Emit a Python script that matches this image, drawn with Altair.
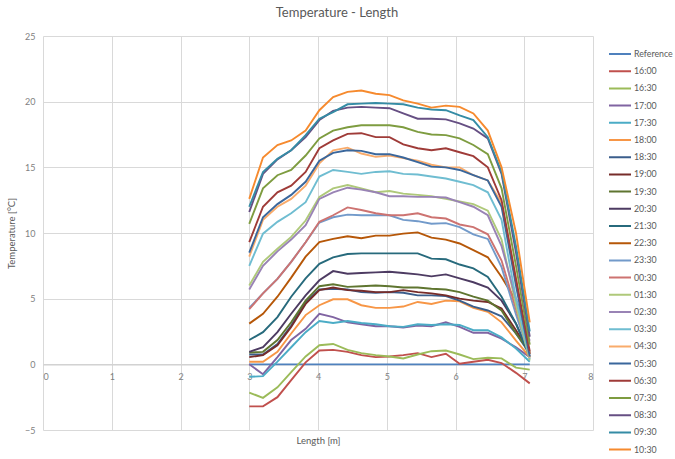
import altair as alt
import pandas as pd

# Measurement positions along the pipe [m]
length_m = [3.00, 3.20, 3.41, 3.61, 3.82, 4.02, 4.22, 4.43, 4.63, 4.84, 5.04,
            5.24, 5.45, 5.65, 5.86, 6.06, 6.26, 6.47, 6.67, 6.88, 7.08]

series_names = ["Reference", "16:00", "16:30", "17:00", "17:30", "18:00", "18:30",
                "19:00", "19:30", "20:30", "21:30", "22:30", "23:30", "00:30",
                "01:30", "02:30", "03:30", "04:30", "05:30", "06:30", "07:30",
                "08:30", "09:30", "10:30"]

series_colors = ["#4F81BD", "#C0504D", "#9BBB59", "#8064A2", "#4BACC6", "#F79646",
                 "#3B5E8C", "#772C2A", "#5F7530", "#4D3B62", "#276A7C", "#B65708",
                 "#729ACA", "#CD7371", "#AFC97A", "#9983B5", "#6FBDD1", "#F9AB6B",
                 "#3A679C", "#9F3B38", "#7E9C40", "#664F83", "#358CA5", "#F68A2E"]

# Temperatures [°C] per series, one value per position
reference = [0, 0, 0, 0, 0, 0, 0, 0, 0, 0, 0, 0, 0, 0, 0, 0, 0, 0, 0, 0, 0]
t1600 = [-3.2, -3.2, -2.5, -1.2, 0.15, 1.05, 1.1, 0.95, 0.7, 0.55, 0.6, 0.7, 0.85, 0.55, 0.8, 0.05, 0.2, 0.35, 0.1, -0.65, -1.45]
t1630 = [-2.15, -2.55, -1.75, -0.6, 0.6, 1.45, 1.55, 1.1, 0.85, 0.7, 0.6, 0.45, 0.75, 1.0, 1.05, 0.75, 0.4, 0.5, 0.45, -0.25, -0.4]
t1700 = [0.0, -0.75, 0.55, 1.85, 2.7, 3.85, 3.6, 3.2, 3.05, 2.9, 2.9, 2.8, 2.95, 2.9, 3.2, 2.85, 2.4, 2.4, 1.95, 1.3, 0.55]
t1730 = [-0.95, -0.9, 0.2, 1.3, 2.45, 3.3, 3.15, 3.3, 3.15, 3.05, 2.9, 2.85, 3.05, 3.0, 3.05, 3.0, 2.6, 2.6, 2.05, 1.2, 0.2]
t1800 = [0.2, 0.2, 0.95, 2.35, 3.75, 4.5, 4.95, 4.95, 4.5, 4.3, 4.3, 4.4, 4.75, 4.6, 4.85, 4.8, 4.3, 4.0, 3.2, 1.8, 0.55]
t1830 = [0.75, 0.75, 1.55, 2.95, 4.75, 5.7, 5.75, 5.7, 5.5, 5.45, 5.5, 5.45, 5.25, 5.25, 5.2, 4.85, 4.4, 4.1, 3.65, 2.35, 0.8]
t1900 = [0.55, 0.7, 1.45, 2.85, 4.6, 5.65, 5.85, 5.65, 5.6, 5.5, 5.5, 5.65, 5.5, 5.4, 5.25, 5.0, 4.85, 4.75, 4.25, 2.6, 0.9]
t1930 = [0.9, 0.95, 1.85, 3.2, 4.85, 5.95, 6.1, 5.9, 5.95, 6.0, 5.95, 5.85, 5.85, 5.75, 5.7, 5.5, 5.15, 4.85, 4.1, 2.35, 0.95]
t2030 = [0.95, 1.3, 2.45, 3.85, 5.25, 6.4, 7.1, 6.9, 6.95, 7.0, 7.05, 6.95, 6.85, 6.7, 6.85, 6.55, 6.25, 5.85, 4.85, 3.1, 0.8]
t2130 = [1.85, 2.45, 3.6, 5.15, 6.55, 7.65, 8.15, 8.4, 8.45, 8.45, 8.45, 8.45, 8.45, 8.05, 8.0, 7.6, 7.3, 6.65, 5.15, 3.1, 0.55]
t2230 = [3.1, 3.85, 5.15, 6.6, 8.2, 9.3, 9.55, 9.75, 9.6, 9.8, 9.8, 9.95, 10.05, 9.65, 9.5, 9.2, 8.7, 8.15, 6.65, 4.85, 0.8]
t2330 = [4.3, 5.4, 6.5, 7.8, 9.3, 10.8, 11.2, 11.4, 11.35, 11.35, 11.35, 11.0, 10.9, 10.7, 10.75, 10.45, 9.9, 9.55, 7.4, 3.8, 0.6]
t0030 = [4.2, 5.4, 6.5, 7.8, 9.3, 10.85, 11.35, 11.95, 11.75, 11.5, 11.35, 11.35, 11.5, 11.2, 11.1, 10.65, 10.45, 9.9, 7.9, 4.2, 0.8]
t0130 = [6.0, 7.8, 8.8, 9.7, 10.95, 12.75, 13.4, 13.65, 13.4, 13.1, 13.2, 13.0, 12.9, 12.8, 12.6, 12.4, 12.2, 11.7, 9.5, 4.5, 0.3]
t0230 = [5.7, 7.5, 8.6, 9.5, 10.6, 12.6, 13.1, 13.45, 13.3, 13.1, 12.8, 12.8, 12.75, 12.75, 12.7, 12.35, 12.0, 11.35, 9.0, 5.0, 1.8]
t0330 = [7.5, 9.95, 10.85, 11.5, 12.35, 14.3, 14.8, 14.65, 14.5, 14.65, 14.7, 14.5, 14.45, 14.3, 14.15, 13.9, 13.65, 13.1, 11.0, 5.0, 0.4]
t0430 = [8.2, 11.0, 12.0, 12.6, 13.6, 15.3, 16.3, 16.5, 16.05, 15.8, 15.9, 15.7, 15.5, 15.2, 15.0, 15.0, 14.4, 14.0, 12.3, 6.5, 0.5]
t0530 = [8.5, 11.2, 12.2, 12.9, 13.9, 15.5, 16.1, 16.3, 16.25, 16.0, 16.0, 15.75, 15.4, 15.05, 15.0, 14.8, 14.4, 14.0, 12.0, 6.0, 0.6]
t0630 = [9.3, 12.0, 13.1, 13.6, 14.65, 16.45, 17.05, 17.55, 17.6, 17.3, 17.3, 16.75, 16.45, 16.3, 16.45, 16.15, 15.85, 15.0, 12.5, 6.5, 1.0]
t0730 = [10.7, 13.4, 14.4, 14.8, 15.9, 17.2, 17.8, 18.05, 18.2, 18.2, 18.2, 18.05, 17.7, 17.5, 17.45, 17.2, 16.7, 16.0, 13.4, 7.5, 1.5]
t0830 = [11.6, 14.5, 15.6, 16.3, 17.3, 18.6, 19.3, 19.55, 19.6, 19.55, 19.5, 19.1, 18.7, 18.7, 18.65, 18.35, 17.95, 17.2, 14.5, 8.5, 2.1]
t0930 = [12.0, 14.65, 15.65, 16.3, 17.45, 18.7, 19.2, 19.8, 19.85, 19.9, 19.85, 19.8, 19.55, 19.4, 19.35, 18.95, 18.6, 17.3, 14.65, 9.0, 2.5]
t1030 = [12.6, 15.75, 16.7, 17.05, 17.8, 19.35, 20.35, 20.75, 20.85, 20.6, 20.5, 20.1, 19.85, 19.55, 19.7, 19.6, 19.1, 17.8, 15.0, 10.0, 3.2]

series_values = [reference, t1600, t1630, t1700, t1730, t1800, t1830, t1900, t1930,
                 t2030, t2130, t2230, t2330, t0030, t0130, t0230, t0330, t0430,
                 t0530, t0630, t0730, t0830, t0930, t1030]

rows = []
for order, (name, values) in enumerate(zip(series_names, series_values)):
    for x, t in zip(length_m, values):
        rows.append({"series": name, "order": order, "length": x, "temp": t})
df = pd.DataFrame(rows)

FONT = "Lato"
GRID = "#d9d9d9"

x_axis = alt.Axis(
    values=list(range(0, 9)), grid=True, gridColor=GRID, gridWidth=1,
    domainColor="#cfcfcf", domainWidth=1.2, ticks=False,
    offset=-65.67, labelPadding=8, labelFontSize=9, labelColor="#7f7f7f",
    labelFont=FONT, title="Length [m]", titleY=76, titleBaseline="middle",
    titleFontSize=9.5, titleFontWeight="normal", titleColor="#595959",
    titleFont=FONT,
)
y_axis = alt.Axis(
    values=[-5, 0, 5, 10, 15, 20, 25], grid=True, gridColor=GRID, gridWidth=1,
    domain=False, ticks=False, labelPadding=8, labelFontSize=9,
    labelColor="#7f7f7f", labelFont=FONT, title="Temperature [°C]",
    titleFontSize=9.5, titleFontWeight="normal", titleColor="#595959",
    titleFont=FONT, titlePadding=8,
)
legend = alt.Legend(
    title=None, orient="none", legendX=565, legendY=10.5, padding=0,
    symbolType="stroke", symbolSize=484, symbolStrokeWidth=2,
    clipHeight=15, rowPadding=2.2, labelOffset=2, labelFontSize=8.8,
    labelColor="#595959", labelFont=FONT, symbolLimit=40,
)

chart = (
    alt.Chart(df)
    .mark_line(strokeWidth=1.9)
    .encode(
        x=alt.X("length:Q", scale=alt.Scale(domain=[0, 8], nice=False), axis=x_axis),
        y=alt.Y("temp:Q", scale=alt.Scale(domain=[-5, 25], nice=False), axis=y_axis),
        color=alt.Color("series:N", sort=series_names,
                        scale=alt.Scale(domain=series_names, range=series_colors),
                        legend=legend),
        order=alt.Order("length:Q"),
        detail="order:O",
    )
    .properties(
        width=550, height=394,
        title=alt.TitleParams("Temperature - Length", fontSize=13, color="#595959",
                              font=FONT, fontWeight="normal", anchor="middle",
                              dx=19, offset=12),
        autosize=alt.AutoSizeParams(type="none"),
        padding={"left": 43, "top": 36, "right": 82, "bottom": 29},
        background="white",
    )
    .configure_view(stroke=None)
)

chart.save("out.html", embed_options={"renderer": "svg", "actions": False})
